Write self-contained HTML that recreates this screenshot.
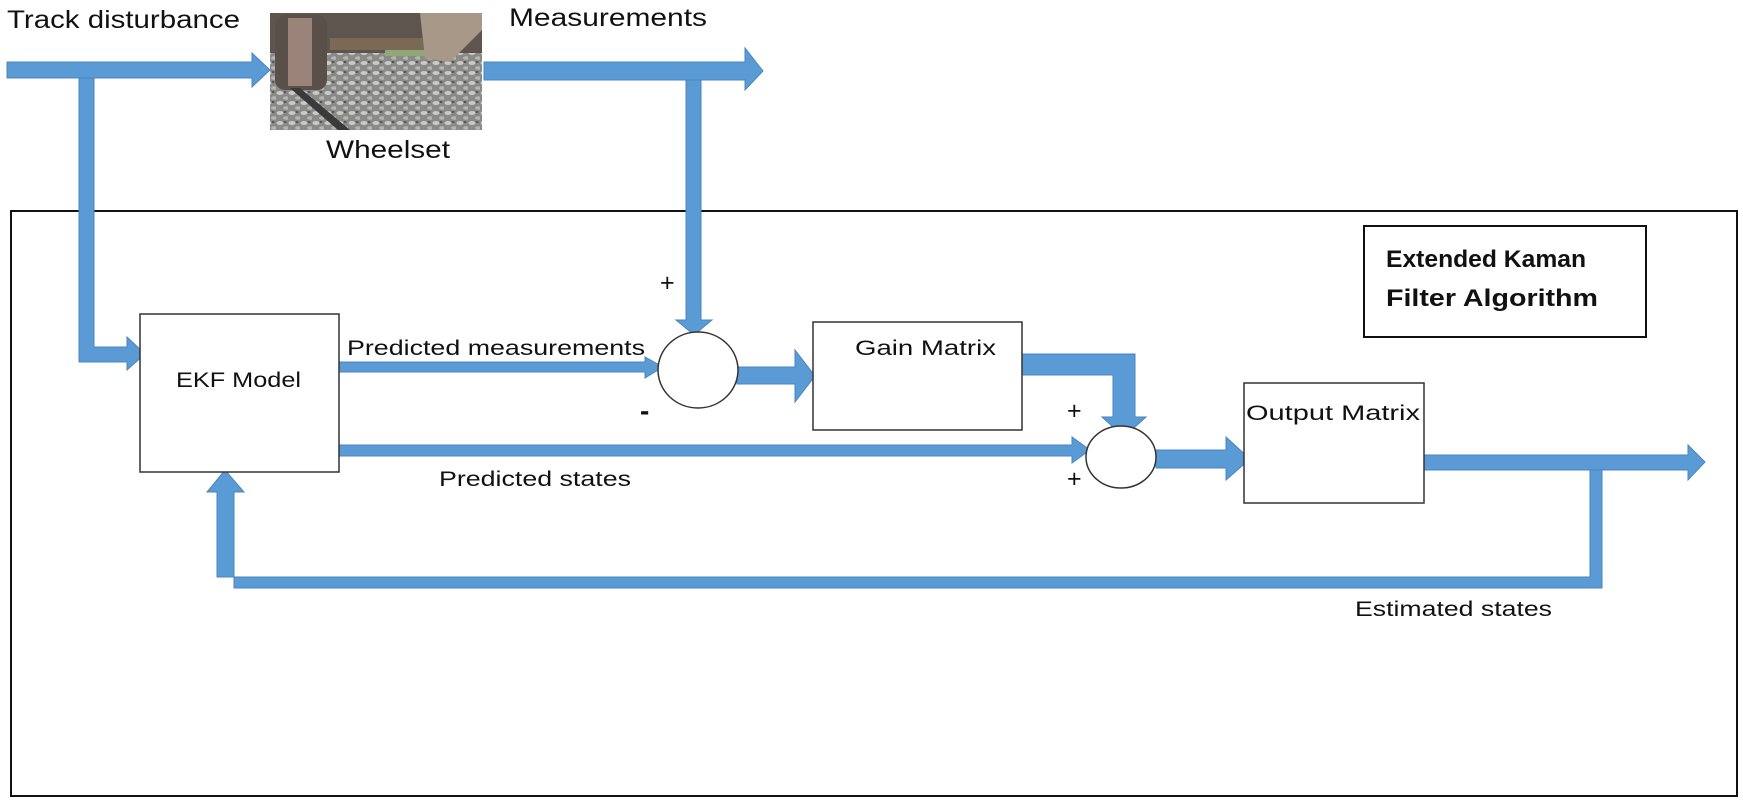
<!DOCTYPE html>
<html><head><meta charset="utf-8"><style>
html,body{margin:0;padding:0;background:#fff}
svg{display:block}
text{font-family:"Liberation Sans",sans-serif;fill:#111}
</style></head><body>
<svg width="1743" height="803" viewBox="0 0 1743 803" xmlns="http://www.w3.org/2000/svg">
<defs>
<pattern id="grav" width="12" height="10" patternUnits="userSpaceOnUse">
<rect width="12" height="10" fill="#8a8a88"/>
<ellipse cx="4" cy="3" rx="3.5" ry="2" fill="#c9c9c6"/>
<ellipse cx="10" cy="8" rx="3" ry="1.8" fill="#b5b5b2"/>
<ellipse cx="9" cy="2" rx="1.5" ry="1" fill="#555"/>
</pattern>
</defs>
<rect x="11" y="211" width="1726" height="585" fill="none" stroke="#111" stroke-width="2"/>
<!-- photo -->
<rect x="270" y="13" width="212" height="117" fill="url(#grav)"/>
<rect x="270" y="13" width="212" height="40" fill="#5e564e"/>
<rect x="330" y="38" width="130" height="12" fill="#7a6a55"/>
<rect x="385" y="50" width="40" height="6" fill="#8fa878"/>
<polygon points="420,13 482,13 482,30 450,62 425,58" fill="#a89888"/>
<rect x="275" y="15" width="52" height="75" rx="10" fill="#5a504a"/>
<rect x="288" y="18" width="24" height="68" fill="#9a847a"/>
<polygon points="290,88 300,88 350,130 338,130" fill="#3a3a3a"/>
<!-- title box -->
<rect x="1364" y="226" width="282" height="111" fill="#fff" stroke="#111" stroke-width="2"/>
<text x="1386" y="267" font-size="24" font-weight="bold" textLength="200" lengthAdjust="spacingAndGlyphs">Extended Kaman</text>
<text x="1386" y="306" font-size="24" font-weight="bold" textLength="212" lengthAdjust="spacingAndGlyphs">Filter Algorithm</text>
<g fill="#5b9bd5" stroke="#4a86c0" stroke-width="1">
<polygon points="7,62 252,62 252,53 270,70 252,87 252,78 7,78"/>
<polygon points="79,78 94,78 94,347 127,347 127,337 145,354 127,370 127,362 79,362"/>
<polygon points="484,62 745,62 745,48 763,71 745,90 745,80 484,80"/>
<polygon points="686,80 701,80 701,320 712,320 694,335 676,320 686,320"/>
<polygon points="339,362 645,362 645,357 663,367 645,378 645,372 339,372"/>
<polygon points="737,367 795,367 795,350 815,376 795,402 795,384 737,384"/>
<polygon points="1022,354 1135,354 1135,417 1146,417 1124,437 1102,417 1113,417 1113,375 1022,375"/>
<polygon points="339,445 1072,445 1072,437 1090,450 1072,463 1072,456 339,456"/>
<polygon points="1156,450 1226,450 1226,437 1250,459 1226,480 1226,468 1156,468"/>
<polygon points="1424,455 1688,455 1688,445 1705,462 1688,480 1688,470 1424,470"/>
<polygon points="1590,470 1602,470 1602,588 234,588 234,492 244,492 225,470 207,492 217,492 217,577 1590,577"/>
</g>
<rect x="140" y="314" width="199" height="158" fill="#fff" stroke="#333" stroke-width="1.5"/>
<rect x="813" y="322" width="209" height="108" fill="#fff" stroke="#333" stroke-width="1.5"/>
<rect x="1244" y="383" width="180" height="120" fill="#fff" stroke="#333" stroke-width="1.5"/>
<ellipse cx="698" cy="370" rx="40" ry="38" fill="#fff" stroke="#333" stroke-width="1.5"/>
<ellipse cx="1121" cy="457" rx="35" ry="31" fill="#fff" stroke="#333" stroke-width="1.5"/>
<text x="7" y="28" font-size="25" textLength="233" lengthAdjust="spacingAndGlyphs">Track disturbance</text>
<text x="509" y="26" font-size="25" textLength="198" lengthAdjust="spacingAndGlyphs">Measurements</text>
<text x="326" y="158" font-size="25" textLength="124" lengthAdjust="spacingAndGlyphs">Wheelset</text>
<text x="176" y="387" font-size="21" textLength="125" lengthAdjust="spacingAndGlyphs">EKF Model</text>
<text x="347" y="355" font-size="21" textLength="298" lengthAdjust="spacingAndGlyphs">Predicted measurements</text>
<text x="855" y="355" font-size="21" textLength="141" lengthAdjust="spacingAndGlyphs">Gain Matrix</text>
<text x="1246" y="420" font-size="21" textLength="174" lengthAdjust="spacingAndGlyphs">Output Matrix</text>
<text x="439" y="486" font-size="21" textLength="192" lengthAdjust="spacingAndGlyphs">Predicted states</text>
<text x="1355" y="616" font-size="21" textLength="197" lengthAdjust="spacingAndGlyphs">Estimated states</text>
<text x="660" y="291" font-size="25">+</text>
<text x="640" y="420" font-size="28" font-weight="bold">-</text>
<text x="1067" y="419" font-size="25">+</text>
<text x="1067" y="487" font-size="25">+</text>
</svg>
</body></html>
